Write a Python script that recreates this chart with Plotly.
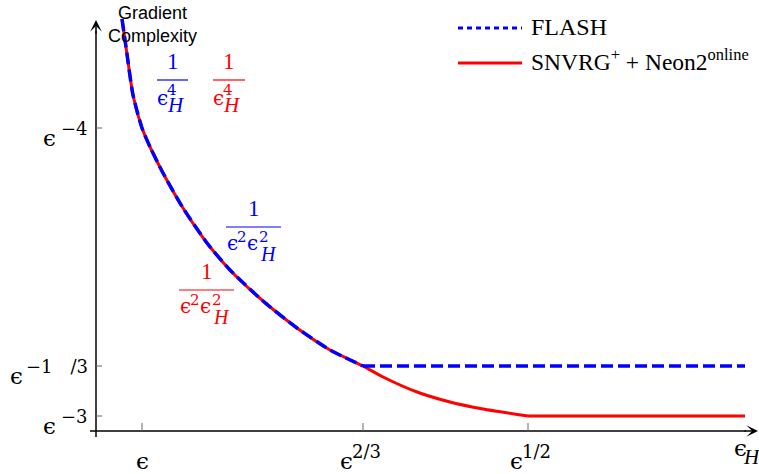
import plotly.graph_objects as go

# Schematic units: origin where the two axes cross (1 unit ~ 1 px)
# Shared part of both bounds: 1/eps_H^4 then 1/(eps^2 eps_H^2)
shared_x = [26, 30, 37, 46, 55, 67, 87, 111, 134, 167, 201, 234, 267]
shared_y = [412, 384, 336, 303, 282, 258, 223, 188, 161, 130, 103, 81, 65]

# FLASH stays flat after eps^{2/3}
flash_tail_x = [649]
flash_tail_y = [65]

# SNVRG+ + Neon2 keeps decreasing until eps^{1/2}, then flat
snvrg_tail_x = [287, 321, 354, 387, 432, 649]
snvrg_tail_y = [54, 39, 29, 22, 15, 15]

# axis ticks and labels (exponent shown next to epsilon)
xtick_pos = [46, 267, 432]
xtick_exp = ["", "2/3", "1/2"]
ytick_pos = [303, 65, 15]
ytick_exp = ["−4", "−1\u2003/3", "−3"]

SERIF = "Liberation Serif, serif"
MATH = "DejaVu Serif, serif"
SANS = "Liberation Sans, Arial, sans-serif"
BLUE = "#0000ff"
RED = "#ff0000"
PAD = 3  # annotation box padding, compensated for left/right anchors

fig = go.Figure()


def label(x, y, s, size, color="black", family=SERIF, xanchor="center"):
    shift = {"left": -PAD, "right": PAD}.get(xanchor, 0)
    fig.add_annotation(x=x, y=y, text=s, showarrow=False, xanchor=xanchor, yanchor="middle",
                       xshift=shift, font=dict(family=family, size=size, color=color))


def eps(x, y, size, color="black", xanchor="center"):
    # lunate epsilon sits low in its text box, nudge it up a little
    label(x, y + 2, "ϵ", size, color, MATH, xanchor)


# red solid curve underneath, blue dashed on top
fig.add_trace(go.Scatter(
    x=shared_x + snvrg_tail_x[:-1], y=shared_y + snvrg_tail_y[:-1],
    mode="lines", line=dict(color=RED, width=3, shape="spline", smoothing=0.6),
    showlegend=False, hoverinfo="skip"))
fig.add_trace(go.Scatter(
    x=snvrg_tail_x[-2:], y=snvrg_tail_y[-2:],
    mode="lines", line=dict(color=RED, width=3),
    showlegend=False, hoverinfo="skip"))
fig.add_trace(go.Scatter(
    x=shared_x, y=shared_y,
    mode="lines", line=dict(color=BLUE, width=3.5, dash="12px,5px", shape="spline", smoothing=0.6),
    showlegend=False, hoverinfo="skip"))
fig.add_trace(go.Scatter(
    x=shared_x[-1:] + flash_tail_x, y=shared_y[-1:] + flash_tail_y,
    mode="lines", line=dict(color=BLUE, width=3.5, dash="12px,5px"),
    showlegend=False, hoverinfo="skip"))

# axes with arrows
fig.add_shape(type="line", x0=0, y0=-6, x1=0, y1=400, line=dict(color="black", width=1.5))
fig.add_shape(type="line", x0=-6, y0=0, x1=650, y1=0, line=dict(color="black", width=1.5))
fig.add_annotation(x=0, y=411, ax=0, ay=396, axref="x", ayref="y", showarrow=True,
                   arrowhead=3, arrowsize=1.3, arrowwidth=1.5, arrowcolor="black", text="")
fig.add_annotation(x=662, y=0, ax=647, ay=0, axref="x", ayref="y", showarrow=True,
                   arrowhead=3, arrowsize=1.3, arrowwidth=1.5, arrowcolor="black", text="")

xlab_shift = [0, -10, -5]
for xv, ex, sh in zip(xtick_pos, xtick_exp, xlab_shift):
    fig.add_shape(type="line", x0=xv, y0=0, x1=xv, y1=8, line=dict(color="#666", width=1))
    if ex:
        eps(xv + sh - 1, -32, 23, xanchor="right")
        label(xv + sh, -20, ex, 18, family=MATH, xanchor="left")
    else:
        eps(xv, -32, 23)
for yv, ex in zip(ytick_pos, ytick_exp):
    fig.add_shape(type="line", x0=0, y0=yv, x1=6, y1=yv, line=dict(color="#666", width=1))
    label(-9, yv, ex, 18, family=MATH, xanchor="right")
    eps(-74 if "/" in ex else -41, yv - 12, 23, xanchor="right")

eps(644, -19, 23)
label(648, -26, "<i>H</i>", 21, xanchor="left")
label(56, 407, "Gradient<br>Complexity", 18, family=SANS)


def frac(x0, y0, w, color, pieces):
    # fraction bar, numerator "1", and denominator pieces (text, dx, dy, size, font, anchor)
    fig.add_shape(type="line", x0=x0, y0=y0, x1=x0 + w, y1=y0, line=dict(color=color, width=1.2))
    label(x0 + w / 2, y0 + 19, "1", 23, color)
    for s, dx, dy, size, fam, anc in pieces:
        if s == "ϵ":
            eps(x0 + dx, y0 - dy, size, color)
        else:
            label(x0 + dx, y0 - dy, s, size, color, fam, anc)


quartic = [("ϵ", 5, 20, 20, MATH, "center"), ("4", 11, 10, 15, MATH, "left"),
           ("<i>H</i>", 11, 25, 21, SERIF, "left")]
quad = [("ϵ", 6, 18, 20, MATH, "center"), ("2", 12, 10, 15, MATH, "left"),
        ("ϵ", 26, 18, 20, MATH, "center"), ("2", 34, 10, 15, MATH, "left"),
        ("<i>H</i>", 35, 27, 20, SERIF, "left")]
frac(61, 351, 31, BLUE, quartic)
frac(117, 351, 32, RED, quartic)
frac(130, 204, 55, BLUE, quad)
frac(83, 141, 55, RED, quad)

# legend
fig.add_shape(type="line", x0=362, y0=403, x1=426, y1=403, line=dict(color=BLUE, width=3, dash="5px,4px"))
fig.add_shape(type="line", x0=362, y0=368, x1=426, y1=368, line=dict(color=RED, width=3))
label(436, 404, "FLASH", 24, xanchor="left")
label(436, 371, "SNVRG<sup>+</sup> + Neon2<sup>online</sup>", 23.5, xanchor="left")

fig.update_layout(
    width=759, height=474,
    margin=dict(l=0, r=0, t=0, b=0),
    paper_bgcolor="white", plot_bgcolor="white",
    xaxis=dict(range=[-96, 663], visible=False, fixedrange=True),
    yaxis=dict(range=[-43, 431], visible=False, fixedrange=True),
)

# drop the default 8px page margin so the figure fills the window
fig.write_html("out.html", config={"displayModeBar": False},
               post_script="document.body.style.margin = '0px';")
